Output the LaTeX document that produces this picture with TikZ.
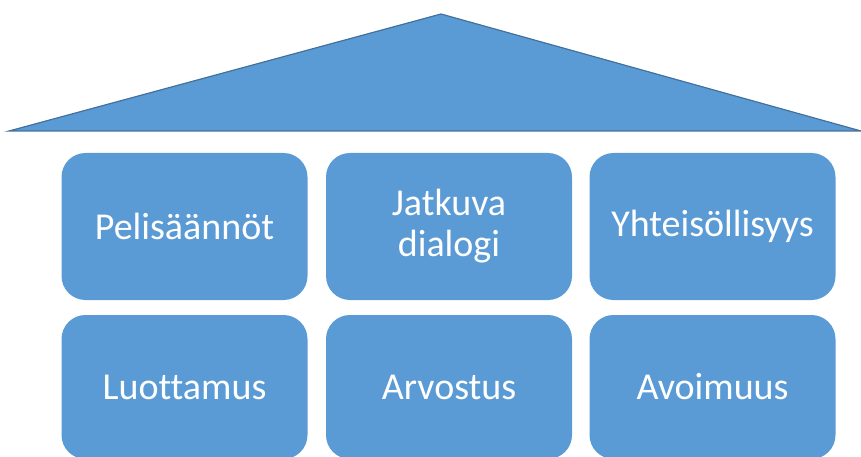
\documentclass[tikz,border=0pt]{standalone}
\usepackage{fontspec}
\setmainfont[Ligatures=NoCommon]{Carlito}
\definecolor{boxblue}{HTML}{5B9BD5}
\definecolor{edgeblue}{HTML}{41719C}
\begin{document}
\begin{tikzpicture}[x=1pt,y=-1pt,
  pillar/.style={fill=boxblue, draw=none, rounded corners=24pt, minimum width=246pt, minimum height=147pt, text=white, font=\fontsize{38}{41}\selectfont, align=center, inner sep=0pt}]
\useasboundingbox (0,0) rectangle (861,457);
\draw[fill=boxblue, draw=edgeblue, line width=1.2pt] (9,131) coordinate (rl) -- (441,14) coordinate (apex) -- (861,131) coordinate (rr) -- cycle;
\node[pillar] (p1) at (184.5,226.5) {Pelisäännöt};
\node[pillar] (p2) at (449,226.5) {Jatkuva\\dialogi};
\node[pillar] (p3) at (712.5,226.5) {Yhteisöllisyys};
\node[pillar, minimum height=144pt] (p4) at (184.5,387) {Luottamus};
\node[pillar, minimum height=144pt] (p5) at (449,387) {Arvostus};
\node[pillar, minimum height=144pt] (p6) at (712.5,387) {Avoimuus};
\end{tikzpicture}
\end{document}
